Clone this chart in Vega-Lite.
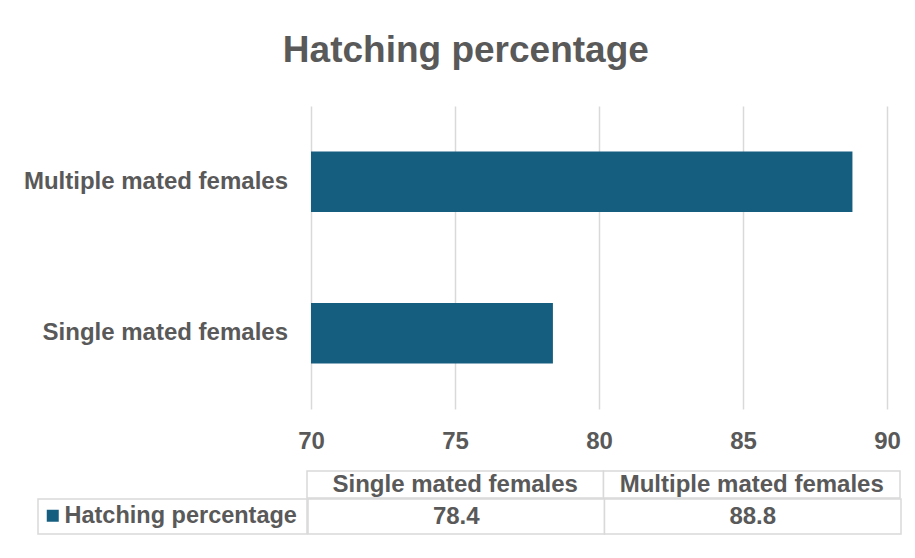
{
  "$schema": "https://vega.github.io/schema/vega-lite/v6.json",
  "padding": {"top": 32, "left": 23, "right": 12, "bottom": 20},
  "background": "white",
  "title": {"text": "Hatching percentage", "fontSize": 37, "font": "Liberation Sans", "fontWeight": "bold", "color": "#595959", "anchor": "middle", "offset": 36, "dx": 3},
  "datasets": {
    "hatch": [
      {"Category": "Single mated females", "Value": 78.4, "Series": "Hatching percentage"},
      {"Category": "Multiple mated females", "Value": 88.8, "Series": "Hatching percentage"}
    ]
  },
  "config": {"view": {"stroke": null}, "font": "Liberation Sans"},
  "spacing": 17,
  "vconcat": [
    {
      "spacing": 9,
      "hconcat": [
        {
          "width": 250,
          "height": 303,
          "data": {"name": "hatch"},
          "mark": {"type": "text", "align": "right", "baseline": "middle", "fontSize": 24, "fontWeight": "bold", "color": "#595959"},
          "encoding": {
            "y": {"field": "Category", "type": "nominal", "sort": ["Multiple mated females", "Single mated females"], "scale": {"paddingInner": 0, "paddingOuter": 0}, "axis": null},
            "x": {"value": "width"},
            "text": {"field": "Category"}
          }
        },
        {
          "width": 576,
          "height": 303,
          "data": {"name": "hatch"},
          "mark": {"type": "bar", "color": "#165E80", "height": {"band": 0.4}, "clip": true},
          "encoding": {
            "y": {"field": "Category", "type": "nominal", "sort": ["Multiple mated females", "Single mated females"], "scale": {"paddingInner": 0, "paddingOuter": 0}, "axis": null},
            "x": {
              "field": "Value", "type": "quantitative",
              "scale": {"domain": [70, 90], "zero": false, "nice": false},
              "axis": {"values": [70, 75, 80, 85, 90], "title": null, "grid": true, "gridColor": "#d9d9d9", "gridWidth": 1.5, "domain": false, "ticks": false, "labelFontSize": 24, "labelFontWeight": "bold", "labelColor": "#595959", "labelPadding": 20, "labelFlush": false}
            }
          }
        }
      ]
    },
    {
      "spacing": -2,
      "vconcat": [
        {
          "spacing": -1,
          "hconcat": [
            {
              "width": 269,
              "height": 27,
              "data": {"values": []},
              "mark": {"type": "text"},
              "encoding": {}
            },
            {
              "width": 593,
              "height": 27,
              "data": {"name": "hatch"},
              "encoding": {
                "x": {"field": "Category", "type": "nominal", "sort": ["Single mated females", "Multiple mated females"], "scale": {"paddingInner": 0, "paddingOuter": 0}, "axis": null}
              },
              "layer": [
                {"mark": {"type": "rect", "fill": "white", "stroke": "#d9d9d9", "strokeWidth": 1.5}},
                {"mark": {"type": "text", "fontSize": 24, "fontWeight": "bold", "color": "#595959", "baseline": "middle"}, "encoding": {"text": {"field": "Category"}}}
              ]
            }
          ]
        },
        {
          "spacing": -2,
          "resolve": {"legend": {"color": "independent"}},
          "hconcat": [
            {
              "width": 269,
              "height": 35,
              "data": {"name": "hatch"},
              "view": {"stroke": "#d9d9d9", "strokeWidth": 1.5},
              "mark": {"type": "square", "filled": true, "opacity": 0},
              "encoding": {
                "color": {
                  "field": "Series", "type": "nominal",
                  "scale": {"range": ["#165E80"]},
                  "legend": {"title": null, "orient": "none", "legendX": 3, "legendY": 5, "symbolType": "square", "symbolSize": 144, "symbolStrokeWidth": 0, "symbolOpacity": 1, "labelFontSize": 23.5, "labelFontWeight": "bold", "labelColor": "#595959", "labelOffset": 0, "labelLimit": 400, "padding": 0}
                }
              }
            },
            {
              "width": 593,
              "height": 35,
              "data": {"name": "hatch"},
              "encoding": {
                "x": {"field": "Category", "type": "nominal", "sort": ["Single mated females", "Multiple mated females"], "scale": {"paddingInner": 0, "paddingOuter": 0}, "axis": null}
              },
              "layer": [
                {"mark": {"type": "rect", "fill": "white", "stroke": "#d9d9d9", "strokeWidth": 1.5}},
                {"mark": {"type": "text", "fontSize": 24, "fontWeight": "bold", "color": "#595959", "baseline": "middle"}, "encoding": {"text": {"field": "Value", "type": "quantitative", "format": ".1f"}}}
              ]
            }
          ]
        }
      ]
    }
  ]
}
